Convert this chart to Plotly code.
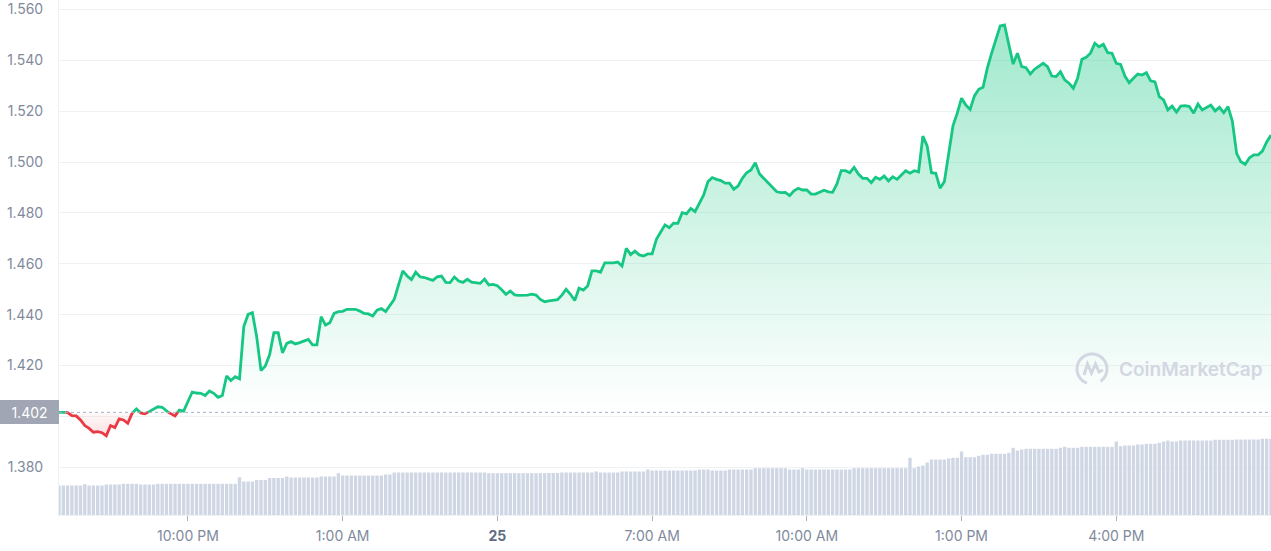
import numpy as np
import pandas as pd
import plotly.graph_objects as go

# ---------------- data ----------------
START = "2023-04-24 19:30"

price = [
    1.4016, 1.4017, 1.4015, 1.4003, 1.4002, 1.3986, 1.3964, 1.3953, 1.3938, 1.3940,
    1.3936, 1.3924, 1.3964, 1.3956, 1.3990, 1.3986, 1.3973, 1.4012, 1.4029, 1.4014,
    1.4010, 1.4019, 1.4029, 1.4038, 1.4036, 1.4021, 1.4010, 1.4002, 1.4025, 1.4021,
    1.4061, 1.4096, 1.4092, 1.4091, 1.4082, 1.4100, 1.4091, 1.4075, 1.4082, 1.4159,
    1.4141, 1.4156, 1.4148, 1.4353, 1.4401, 1.4408, 1.4313, 1.4180, 1.4198, 1.4242,
    1.4329, 1.4329, 1.4250, 1.4287, 1.4294, 1.4285, 1.4290, 1.4295, 1.4303, 1.4281,
    1.4281, 1.4392, 1.4359, 1.4368, 1.4405, 1.4412, 1.4413, 1.4421, 1.4421, 1.4421,
    1.4414, 1.4405, 1.4403, 1.4395, 1.4418, 1.4424, 1.4412, 1.4438, 1.4460, 1.4517,
    1.4572, 1.4552, 1.4538, 1.4567, 1.4549, 1.4546, 1.4541, 1.4535, 1.4549, 1.4552,
    1.4527, 1.4526, 1.4548, 1.4532, 1.4527, 1.4539, 1.4528, 1.4526, 1.4523, 1.4540,
    1.4517, 1.4519, 1.4514, 1.4498, 1.4480, 1.4493, 1.4478, 1.4476, 1.4476, 1.4477,
    1.4481, 1.4477, 1.4460, 1.4451, 1.4454, 1.4458, 1.4459, 1.4477, 1.4500, 1.4480,
    1.4456, 1.4504, 1.4497, 1.4513, 1.4572, 1.4572, 1.4567, 1.4604, 1.4604, 1.4604,
    1.4607, 1.4591, 1.4661, 1.4636, 1.4650, 1.4635, 1.4631, 1.4639, 1.4639, 1.4696,
    1.4725, 1.4753, 1.4742, 1.4760, 1.4759, 1.4801, 1.4796, 1.4818, 1.4805,
    1.4835, 1.4871, 1.4923, 1.4939, 1.4932, 1.4927, 1.4917, 1.4917, 1.4893, 1.4906,
    1.4936, 1.4958, 1.4969, 1.4997, 1.4953, 1.4936, 1.4919, 1.4901, 1.4883, 1.4880,
    1.4881, 1.4868, 1.4887, 1.4897, 1.4890, 1.4890, 1.4874, 1.4874, 1.4883, 1.4889,
    1.4883, 1.4881, 1.4914, 1.4966, 1.4966, 1.4958, 1.4979, 1.4953, 1.4936, 1.4936,
    1.4919, 1.4940, 1.4932,
    1.4945, 1.4926, 1.4942, 1.4932, 1.4949, 1.4966, 1.4956, 1.4966, 1.4961, 1.5102,
    1.5063, 1.4958, 1.4956, 1.4897, 1.4923, 1.5028, 1.5142, 1.5192, 1.5251, 1.5224,
    1.5207, 1.5260, 1.5286, 1.5294, 1.5369, 1.5428, 1.5480, 1.5535, 1.5539, 1.5460,
    1.5385, 1.5428, 1.5375, 1.5371, 1.5346, 1.5365, 1.5375, 1.5388, 1.5375, 1.5338,
    1.5336, 1.5355, 1.5323, 1.5310, 1.5290, 1.5329, 1.5404, 1.5412, 1.5428, 1.5467,
    1.5453, 1.5463, 1.5430, 1.5428, 1.5388, 1.5384, 1.5338, 1.5312, 1.5329, 1.5346,
    1.5342, 1.5351, 1.5319, 1.5315, 1.5257, 1.5244, 1.5205, 1.5220, 1.5196, 1.5220,
    1.5222, 1.5218, 1.5192, 1.5228, 1.5205, 1.5215, 1.5224, 1.5201, 1.5215, 1.5194,
    1.5218, 1.5161, 1.5034, 1.5001, 1.4991, 1.5017, 1.5028, 1.5028, 1.5043, 1.5079,
    1.5106,
]

volume_m = [
    29.5, 29.5, 29.5, 29.5, 29.5, 29.5, 30.8, 29.5, 29.5, 29.5,
    29.5, 30.5, 30.5, 30.5, 30.5, 31.2, 31.2, 31.2, 31.2, 30.5,
    30.5, 30.5, 30.5, 31.2, 31.2, 31.2, 31.2, 31.2, 31.2, 31.2,
    31.2, 31.2, 31.2, 31.2, 31.2, 31.2, 31.2, 31.2, 31.2, 31.2,
    31.2, 31.2, 37.8, 33.5, 33.5, 33.5, 35.0, 35.0, 35.0, 37.0,
    37.0, 37.0, 37.0, 38.5, 37.5, 37.5, 37.5, 37.5, 37.5, 37.5,
    37.5, 38.5, 38.5, 38.5, 38.5, 41.8, 39.5, 39.5, 39.5, 39.5,
    39.5, 39.5, 39.5, 39.5, 39.5, 39.5, 40.5, 40.5, 42.5, 42.5,
    42.5, 42.5, 42.5, 42.5, 42.5, 42.5, 42.5, 42.5, 42.5, 42.5,
    42.5, 42.5, 42.5, 42.5, 42.5, 42.5, 42.5, 42.5, 42.5, 42.5,
    41.8, 41.8, 41.8, 41.8, 41.8, 41.8, 41.8, 41.8, 41.8, 41.8,
    41.8, 41.8, 41.8, 41.8, 42.0, 42.0, 42.0, 42.5, 42.5, 42.5,
    42.5, 42.5, 42.5, 42.5, 42.5, 43.5, 42.5, 42.5, 42.5, 42.5,
    42.5, 43.5, 43.5, 43.5, 43.5, 43.5, 43.5, 45.5, 44.5, 44.5,
    44.5, 44.5, 44.5, 44.5, 44.5, 44.5, 44.5, 44.5, 44.5, 45.5,
    45.5, 45.5, 44.5, 44.5, 44.5, 44.5, 45.5, 45.5, 45.5, 45.5,
    45.5, 45.5, 46.8, 46.8, 46.8, 46.8, 46.8, 46.8, 46.8, 46.8,
    45.5, 45.5, 45.5, 46.8, 45.5, 45.5, 45.5, 45.5, 45.5, 45.5,
    45.5, 45.5, 45.5, 45.5, 45.5, 46.8, 46.8, 46.8, 46.8, 46.8,
    46.8, 46.8, 46.8, 46.8, 46.8, 46.8, 46.8, 46.8, 57.2, 46.8,
    48.5, 49.5, 52.5, 55.5, 55.5, 55.5, 55.5, 56.5, 57.2, 57.2,
    63.5, 57.8, 57.8, 57.8, 59.2, 60.2, 60.2, 61.2, 61.2, 61.2,
    61.2, 62.2, 67.2, 64.5, 65.5, 66.2, 66.2, 66.2, 66.2, 66.2,
    66.2, 66.2, 66.2, 67.2, 68.2, 67.2, 67.2, 67.2, 68.2, 68.2,
    68.2, 68.2, 68.2, 68.2, 68.2, 68.2, 73.5, 68.8, 69.5, 69.5,
    69.5, 70.5, 70.5, 71.2, 71.2, 71.2, 72.2, 73.5, 74.5, 73.5,
    73.5, 74.5, 74.5, 74.5, 74.5, 74.5, 74.5, 74.5, 74.5, 75.2,
    75.2, 75.2, 75.2, 75.2, 75.5, 75.5, 75.5, 75.5, 75.5, 75.5,
    76.2, 76.2, 76.2,
]

ref_price = 1.4016
ref_label = "1.402"

price_ticks = [1.38, 1.40, 1.42, 1.44, 1.46, 1.48, 1.50, 1.52, 1.54, 1.56]
price_tick_labels = ["1.380", "", "1.420", "1.440", "1.460", "1.480",
                     "1.500", "1.520", "1.540", "1.560"]

time_ticks = ["2023-04-24 22:00", "2023-04-25 01:00", "2023-04-25 04:00",
              "2023-04-25 07:00", "2023-04-25 10:00", "2023-04-25 13:00",
              "2023-04-25 16:00"]
time_tick_labels = ["10:00 PM", "1:00 AM",
                    "<span style='color:#5f6b82'><b>25</b></span>",
                    "7:00 AM", "10:00 AM", "1:00 PM", "4:00 PM"]

# ---------------- styling ----------------
GREEN = "#16c784"
RED = "#ea3943"
GRID = "#eff2f5"
TEXT = "#808a9d"
FONT = "Inter"
WM = "#d3d7e2"

times = pd.date_range(START, periods=len(price), freq="5min")

# split the line into runs above / below the reference price
gx, gy, rx, ry = [], [], [], []
for i in range(len(price)):
    above = price[i] >= ref_price
    if i > 0:
        prev_above = price[i - 1] >= ref_price
        if above != prev_above:
            f = (ref_price - price[i - 1]) / (price[i] - price[i - 1])
            tc = times[i - 1] + (times[i] - times[i - 1]) * f
            if prev_above:
                gx += [tc, None]; gy += [ref_price, None]
                rx.append(tc); ry.append(ref_price)
            else:
                rx += [tc, None]; ry += [ref_price, None]
                gx.append(tc); gy.append(ref_price)
    if above:
        gx.append(times[i]); gy.append(price[i])
    else:
        rx.append(times[i]); ry.append(price[i])

pmin, pmax = min(price), max(price)
frac = (ref_price - pmin) / (pmax - pmin)

fig = go.Figure()

# volume bars (secondary axis)
fig.add_trace(go.Bar(
    x=times, y=volume_m, yaxis="y2",
    marker=dict(color="#cfd6e4", line=dict(width=0)),
    hoverinfo="skip",
))

# baseline for fill
fig.add_trace(go.Scatter(
    x=times, y=[ref_price] * len(times), mode="lines",
    line=dict(width=0, color="rgba(0,0,0,0)"), hoverinfo="skip",
))
# gradient area between price and baseline
fig.add_trace(go.Scatter(
    x=times, y=price, mode="lines", fill="tonexty",
    line=dict(width=0, color="rgba(0,0,0,0)"),
    fillgradient=dict(
        type="vertical", start=pmin, stop=pmax,
        colorscale=[[0, "rgba(234,57,67,0.16)"],
                    [frac, "rgba(234,57,67,0.03)"],
                    [min(frac + 0.0001, 1), "rgba(22,199,132,0.0)"],
                    [1, "rgba(22,199,132,0.40)"]],
    ),
    hoverinfo="skip",
))

fig.add_trace(go.Scatter(x=gx, y=gy, mode="lines", connectgaps=False,
                         line=dict(color=GREEN, width=2.8)))
fig.add_trace(go.Scatter(x=rx, y=ry, mode="lines", connectgaps=False,
                         line=dict(color=RED, width=2.8)))

# reference dotted line
fig.add_shape(type="line", xref="paper", x0=0, x1=1, yref="y",
              y0=ref_price, y1=ref_price,
              line=dict(color="#a6b0c3", width=1, dash="dot"))

# reference price label box
fig.add_annotation(text=ref_label, xref="paper", x=0, xanchor="right",
                   yref="y", y=ref_price, yanchor="middle", showarrow=False,
                   bgcolor="#a0a6b3", borderwidth=0, borderpad=4,
                   width=51, height=16, align="center",
                   font=dict(family=FONT, size=14, color="white"))

# watermark
fig.add_annotation(text="CoinMarketCap", xref="paper", x=0.8733, xanchor="left",
                   yref="paper", y=0.2816, yanchor="middle", showarrow=False,
                   font=dict(family=FONT, size=19, color=WM, weight=600))
ang = np.deg2rad(np.linspace(-55, 250, 40))
arc = "M " + " L ".join(f"{15*np.cos(a):.2f},{15*np.sin(a):.2f}" for a in ang)
fig.add_shape(type="path", xref="paper", yref="paper",
              xsizemode="pixel", ysizemode="pixel",
              xanchor=0.8523, yanchor=0.2835, path=arc,
              line=dict(color=WM, width=3))
fig.add_shape(type="path", xref="paper", yref="paper",
              xsizemode="pixel", ysizemode="pixel",
              xanchor=0.8523, yanchor=0.2835,
              path="M -8,-6 L -4.5,5 L -0.5,-4 L 3.5,5 L 7,-3 L 11,-1",
              line=dict(color=WM, width=3))

fig.update_layout(
    width=1271, height=551,
    margin=dict(l=59, r=0, t=0, b=36),
    plot_bgcolor="white", paper_bgcolor="white",
    showlegend=False, bargap=0.22,
    xaxis=dict(type="date", range=[times[0], times[-1]],
               tickvals=time_ticks, ticktext=time_tick_labels,
               ticks="outside", ticklen=5, tickcolor="#a6b0c3",
               ticklabelstandoff=3,
               showgrid=False, showline=True, linecolor=GRID, zeroline=False,
               tickfont=dict(family=FONT, size=14, color=TEXT)),
    yaxis=dict(range=[1.36125, 1.5637], tickvals=price_ticks,
               ticktext=price_tick_labels, showgrid=True, gridcolor=GRID,
               showline=True, linecolor=GRID, ticks="", zeroline=False,
               ticklabelstandoff=12, ticklabeloverflow="allow",
               tickfont=dict(family=FONT, size=14, color=TEXT)),
    yaxis2=dict(overlaying="y", range=[0, 515], visible=False),
)

fig.write_html(
    "out.html",
    config={"displayModeBar": False},
    post_script="document.body.style.margin='0';document.body.style.overflow='hidden';",
)
